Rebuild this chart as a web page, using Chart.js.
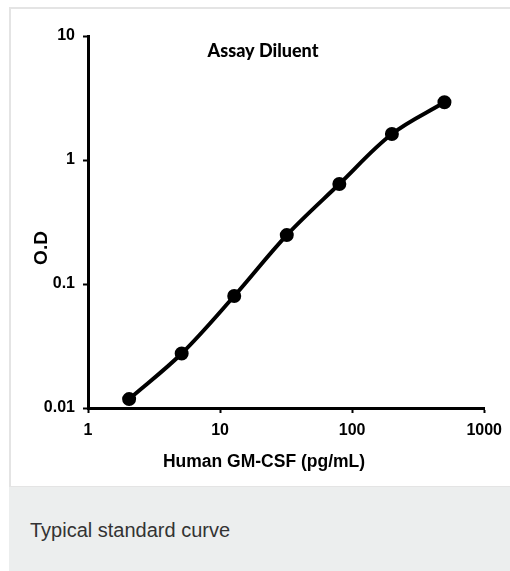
<!DOCTYPE html>
<html>
<head>
<meta charset="utf-8">
<script src="https://cdn.jsdelivr.net/npm/chart.js@4.4.1/dist/chart.umd.min.js"></script>
<style>
  body { margin: 0; background: #fff; width: 510px; height: 571px; overflow: hidden; position: relative; }
  #panel { position: absolute; left: 9px; top: 7px; width: 503px; height: 481px; border: 2px solid #e4e4e4; box-sizing: border-box; background: #fff; }
  #chartbox { position: absolute; left: 10px; top: 9px; width: 500px; height: 478px; }
  #caption { position: absolute; left: 9px; top: 487px; width: 501px; height: 84px; background: #eceeee;
             color: #333; font: 20px "Liberation Sans", Arial, sans-serif; box-sizing: border-box; padding: 32px 0 0 21px; }
</style>
</head>
<body>
<div id="panel"></div>
<div id="chartbox"><canvas id="myChart" width="500" height="478"></canvas></div>
<div id="caption">Typical standard curve</div>
<script>
// standard curve
var conc   = [2.048, 5.12, 12.8, 32, 80, 200, 500];
var od     = [0.0118, 0.0275, 0.080, 0.248, 0.64, 1.62, 2.92];
var xTicks = [1, 10, 100, 1000];
var yTicks = [0.01, 0.1, 1, 10];

var chartTitle = 'Assay Diluent';
var xTitle     = 'Human GM-CSF (pg/mL)';
var yTitle     = 'O.D';

var sans = "Liberation Sans";
var tickFont = { family: sans, size: 16, weight: 'bold' };

// titles sit inside the plot like in the original figure
var textPlugin = {
  id: 'texts',
  afterDraw: function(chart){
    var ctx = chart.ctx;
    ctx.save();
    ctx.fillStyle = '#000';
    ctx.textAlign = 'center';
    ctx.textBaseline = 'middle';
    ctx.font = '900 18px Lato, sans-serif';
    ctx.fillText(chartTitle, 253, 42);
    ctx.font = 'bold 17.5px ' + sans;
    ctx.fillText(xTitle, 254, 453);
    ctx.translate(32, 239);
    ctx.rotate(-Math.PI/2);
    ctx.font = 'bold 19px ' + sans;
    ctx.fillText(yTitle, 0, 0);
    ctx.restore();
  }
};

var points = conc.map(function(c, i){ return {x: c, y: od[i]}; });

function axisGrid(){
  return { drawOnChartArea: false, drawTicks: true, tickLength: 5, tickWidth: 2, tickColor: '#000' };
}

var ctx = document.getElementById('myChart');
window.chart = new Chart(ctx, {
  type: 'scatter',
  data: {
    datasets: [{
      data: points,
      showLine: true,
      borderColor: '#000',
      borderWidth: 4,
      tension: 0.35,
      pointRadius: 5,
      pointBackgroundColor: '#000',
      pointBorderColor: '#000'
    }]
  },
  options: {
    responsive: false,
    animation: false,
    layout: { padding: { top: 27, right: 25, left: 0, bottom: 0 } },
    plugins: { legend: { display: false }, tooltip: { enabled: false } },
    scales: {
      x: {
        type: 'logarithmic', min: 1, max: 1000,
        afterBuildTicks: function(s){ s.ticks = xTicks.map(function(v){ return {value: v}; }); },
        afterFit: function(s){ s.height = 79; },
        ticks: { color: '#000', padding: 8, maxRotation: 0, font: tickFont,
                 callback: function(v){ return String(v); } },
        grid: axisGrid(),
        border: { color: '#000', width: 3 }
      },
      y: {
        type: 'logarithmic', min: 0.01, max: 10,
        afterBuildTicks: function(s){ s.ticks = yTicks.map(function(v){ return {value: v}; }); },
        afterFit: function(s){ s.width = 78; },
        ticks: { color: '#000', padding: 8, font: tickFont,
                 callback: function(v){ return String(v); } },
        grid: axisGrid(),
        border: { color: '#000', width: 3 }
      }
    }
  },
  plugins: [textPlugin]
});
</script>
</body>
</html>
